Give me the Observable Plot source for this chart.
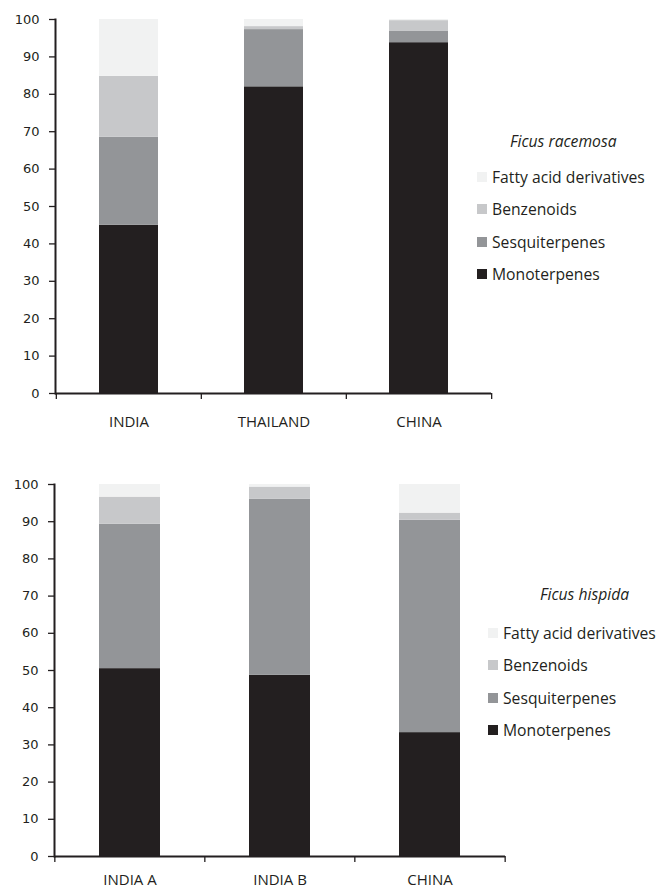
<!DOCTYPE html>
<html>
<head>
<meta charset="utf-8">
<script src="https://cdn.jsdelivr.net/npm/d3@7"></script>
<script src="https://cdn.jsdelivr.net/npm/@observablehq/plot@0.6"></script>
<style>
  html, body { margin: 0; padding: 0; background: white; }
  #page { position: relative; width: 659px; height: 890px; overflow: hidden; font-family: "Open Sans", sans-serif; color: #231f20; }
  .chart { position: absolute; left: 0; }
  .legend { position: absolute; font-family: "Open Sans", sans-serif; font-size: 15.7px; color: #231f20; }
  .legend .title { font-style: italic; position: absolute; white-space: nowrap; line-height: 20px; }
  .legend .item { position: absolute; white-space: nowrap; line-height: 20px; }
  .legend .sw { position: absolute; width: 10px; height: 10px; }
</style>
</head>
<body>
<div id="page"></div>
<script>
// ---- data ----
const groups = ["Monoterpenes", "Sesquiterpenes", "Benzenoids", "Fatty acid derivatives"];
const groupColors = ["#231f20", "#939598", "#c7c8ca", "#f1f2f2"];

const racemosaSites = ["INDIA", "THAILAND", "CHINA"];
const racemosaMono  = [45.0, 82.0, 93.8];
const racemosaSesq  = [23.5, 15.3, 3.0];
const racemosaBenz  = [16.3, 0.8, 2.9];
const racemosaFatty = [15.2, 1.9, 0.3];

const hispidaSites = ["INDIA A", "INDIA B", "CHINA"];
const hispidaMono  = [50.5, 48.7, 33.3];
const hispidaSesq  = [38.8, 47.3, 57.1];
const hispidaBenz  = [7.3, 3.3, 1.9];
const hispidaFatty = [3.4, 0.7, 7.7];

const yTicks = [0, 10, 20, 30, 40, 50, 60, 70, 80, 90, 100];

function rows(sites, series) {
  const out = [];
  sites.forEach((s, i) => {
    series.forEach((vals, g) => out.push({site: s, group: groups[g], value: vals[i]}));
  });
  return out;
}

const ink = "#231f20";

function makeChart({sites, data, top, height, marginTop, marginBottom, marginLeft, marginRight, labelPad}) {
  const width = 659;
  const step = (width - marginLeft - marginRight) / sites.length;
  const svg = Plot.plot({
    width, height, marginTop, marginBottom, marginLeft, marginRight,
    style: {fontFamily: "Open Sans, sans-serif", fontSize: "15px", color: ink, background: "white", overflow: "visible"},
    x: {domain: sites, paddingInner: 0.595, paddingOuter: 0.2975, axis: null, label: null},
    y: {domain: [0, 100], axis: null, label: null},
    color: {domain: groups, range: groupColors},
    marks: [
      Plot.barY(data, {x: "site", y: "value", fill: "group", order: groups}),
      Plot.ruleY([0], {stroke: ink, strokeWidth: 2}),
      Plot.frame({anchor: "left", stroke: ink, strokeWidth: 2}),
      Plot.axisY({ticks: yTicks, tickSize: 6, tickPadding: 10, stroke: ink, strokeWidth: 1.3, label: null,
                  fontFamily: "DejaVu Sans, sans-serif", fontSize: 13, fill: ink}),
      Plot.axisX({ticks: sites, text: null, tickSize: 6, dx: -step / 2, stroke: ink, strokeWidth: 1.3, label: null}),
      Plot.axisX({ticks: sites.slice(-1), text: null, tickSize: 6, dx: step / 2, stroke: ink, strokeWidth: 1.3, label: null}),
      Plot.axisX({tickSize: 0, tickPadding: labelPad, fontSize: 15, fill: ink, label: null})
    ]
  });
  svg.classList.add("chart");
  svg.style.top = top + "px";
  return svg;
}

function makeLegend({title, left, titleLeft, titleY, firstY, gap}) {
  const div = document.createElement("div");
  div.className = "legend";
  div.style.left = "0px"; div.style.top = "0px";
  const t = document.createElement("div");
  t.className = "title"; t.textContent = title;
  t.style.left = titleLeft + "px"; t.style.top = (titleY - 10) + "px";
  div.appendChild(t);
  const order = groups.slice().reverse();
  order.forEach((g, i) => {
    const cy = firstY + i * gap;
    const sw = document.createElement("div");
    sw.className = "sw";
    sw.style.background = groupColors[groups.indexOf(g)];
    sw.style.left = left + "px"; sw.style.top = (cy - 5) + "px";
    const it = document.createElement("div");
    it.className = "item"; it.textContent = g;
    it.style.left = (left + 15) + "px"; it.style.top = (cy - 10) + "px";
    div.appendChild(sw); div.appendChild(it);
  });
  return div;
}

const page = document.getElementById("page");

page.appendChild(makeChart({
  sites: racemosaSites,
  data: rows(racemosaSites, [racemosaMono, racemosaSesq, racemosaBenz, racemosaFatty]),
  top: 0, height: 445, marginTop: 19, marginBottom: 52, marginLeft: 55, marginRight: 168, labelPad: 23
}));
page.appendChild(makeChart({
  sites: hispidaSites,
  data: rows(hispidaSites, [hispidaMono, hispidaSesq, hispidaBenz, hispidaFatty]),
  top: 445, height: 445, marginTop: 39, marginBottom: 34, marginLeft: 54, marginRight: 154, labelPad: 18
}));

page.appendChild(makeLegend({title: "Ficus racemosa", left: 477, titleLeft: 510, titleY: 141, firstY: 177, gap: 32.4}));
page.appendChild(makeLegend({title: "Ficus hispida", left: 488, titleLeft: 540, titleY: 594, firstY: 633, gap: 32.3}));
</script>
</body>
</html>
